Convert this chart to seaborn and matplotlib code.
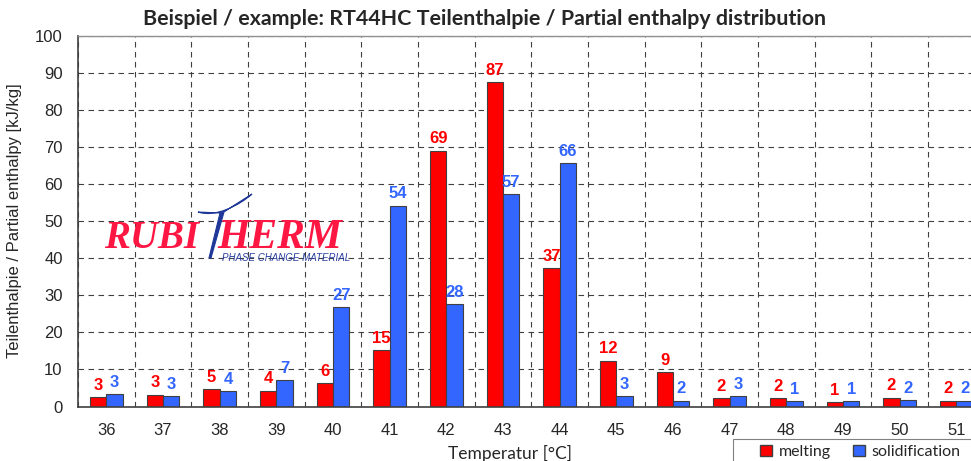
import matplotlib
matplotlib.use("Agg")
import matplotlib.pyplot as plt
import seaborn as sns
import pandas as pd
from matplotlib.patches import Patch, Rectangle
from matplotlib.path import Path
from matplotlib.patches import PathPatch

temperatures = ["36", "37", "38", "39", "40", "41", "42", "43", "44", "45", "46", "47", "48", "49", "50", "51"]
melting = [2.6, 3.2, 4.6, 4.3, 6.4, 15.3, 69.0, 87.4, 37.4, 12.4, 9.2, 2.2, 2.2, 1.3, 2.4, 1.6]
solidification = [3.3, 2.7, 4.2, 7.2, 26.8, 54.2, 27.6, 57.3, 65.7, 2.7, 1.6, 2.7, 1.4, 1.4, 1.8, 1.6]
series_names = ["melting", "solidification"]
yticks = [0, 10, 20, 30, 40, 50, 60, 70, 80, 90, 100]

RED = "#FF0000"
BLUE = "#3366FF"

df = pd.DataFrame({
    "Temperatur": temperatures * 2,
    "value": melting + solidification,
    "series": [series_names[0]] * len(temperatures) + [series_names[1]] * len(temperatures),
})

W, H = 971, 461
fig = plt.figure(figsize=(W / 100, H / 100), dpi=100)
sns.set_style("white")
plt.rcParams["font.family"] = ["Liberation Sans", "DejaVu Sans"]

x0, x1, y0, y1 = 78, 984.7, 406.5, 35.7
ax = fig.add_axes([x0 / W, (H - y0) / H, (x1 - x0) / W, (y0 - y1) / H])
sns.barplot(data=df, x="Temperatur", y="value", hue="series", order=temperatures,
            hue_order=series_names, palette=[RED, BLUE], width=0.58, ax=ax,
            edgecolor="#404040", linewidth=0.8, saturation=1, legend=False)

ax.set_xlim(-0.5, len(temperatures) - 0.5)
ax.set_ylim(0, 100)
ax.set_yticks(yticks)
ax.set_yticklabels([str(v) for v in yticks], fontsize=12)
ax.set_xticks(range(len(temperatures)))
ax.set_xticklabels(temperatures, fontsize=12)
ax.set_xticks([i + 0.5 for i in range(-1, len(temperatures))], minor=True)
ax.tick_params(axis="x", which="major", length=0, pad=12)
ax.tick_params(axis="x", which="minor", length=5, width=1, color="#404040", direction="out")
ax.tick_params(axis="y", which="major", length=4, width=1, color="#404040", direction="out", pad=7)
ax.set_xlabel("")
ax.set_ylabel("")

ax.grid(False)
ax.yaxis.grid(True, linestyle=(0, (5, 4)), color="#404040", linewidth=0.8)
ax.xaxis.grid(True, which="minor", linestyle=(0, (5, 4)), color="#404040", linewidth=0.8)
ax.set_axisbelow(True)
ax.spines["right"].set_visible(False)
ax.spines["top"].set_color("#909090")
ax.spines["top"].set_linewidth(1.0)
for s in ["left", "bottom"]:
    ax.spines[s].set_color("#404040")
    ax.spines[s].set_linewidth(1.2)

# data labels
for cont, color in zip(ax.containers, [RED, BLUE]):
    labels = ["{:.0f}".format(b.get_height()) for b in cont]
    ax.bar_label(cont, labels=labels, padding=3, color=color, fontsize=12, fontweight="bold")

# titles
fig.text(484 / W, 1 - 19 / H, "Beispiel / example: RT44HC Teilenthalpie / Partial enthalpy distribution",
         ha="center", va="center", fontsize=15.4, fontweight="bold", family=["Lato", "DejaVu Sans"])
fig.text(15 / W, 1 - 221 / H, "Teilenthalpie / Partial enthalpy [kJ/kg]", rotation=90,
         ha="center", va="center", fontsize=12, family=["Liberation Sans"])
fig.text(510 / W, 1 - 453 / H, "Temperatur [°C]", ha="center", va="center", fontsize=12.5,
         family=["Lato", "DejaVu Sans"])

# legend
fig.patches.append(Rectangle((733 / W, -0.05), (W + 10 - 733) / W, (H - 439) / H + 0.05,
                             transform=fig.transFigure, facecolor="white",
                             edgecolor="#808080", linewidth=0.8))
handles = [Patch(facecolor=RED, edgecolor="#404040"), Patch(facecolor=BLUE, edgecolor="#404040")]
leg = fig.legend(handles, series_names, loc="center left", bbox_to_anchor=(757 / W, 1 - 452 / H),
                 ncol=2, frameon=False, borderaxespad=0,
                 handlelength=0.75, handleheight=0.75, handletextpad=0.4, columnspacing=1.4,
                 borderpad=0.2, prop={"family": ["Lato", "DejaVu Sans"], "size": 11.5})

# logo
def px(x, y):
    return (x / W, 1 - y / H)

fig.text(*px(199, 238), "RUBI", ha="right", va="center", fontsize=28, fontweight="bold",
         style="italic", color="#FF1744", family=["Liberation Serif"])
fig.text(*px(217, 238), "HERM", ha="left", va="center", fontsize=30, fontweight="bold",
         style="italic", color="#FF1744", family=["Liberation Serif"])
fig.text(*px(222, 258), "PHASE CHANGE MATERIAL", ha="left", va="center", fontsize=7,
         style="italic", color="#2A3FA0", family=["Liberation Sans"])
verts = [px(198, 212), px(215, 218), px(240, 205), px(252, 194),
         px(238, 203), px(228, 209), px(224, 212),
         px(211, 258), px(209, 258), px(220, 213), px(198, 212)]
codes = [Path.MOVETO, Path.CURVE4, Path.CURVE4, Path.CURVE4,
         Path.CURVE4, Path.CURVE4, Path.CURVE4,
         Path.LINETO, Path.LINETO, Path.LINETO, Path.CLOSEPOLY]
fig.patches.append(PathPatch(Path(verts, codes), transform=fig.transFigure,
                             facecolor="#1E3799", edgecolor="#1E3799", linewidth=0.8))

fig.savefig("out.png", dpi=100)
